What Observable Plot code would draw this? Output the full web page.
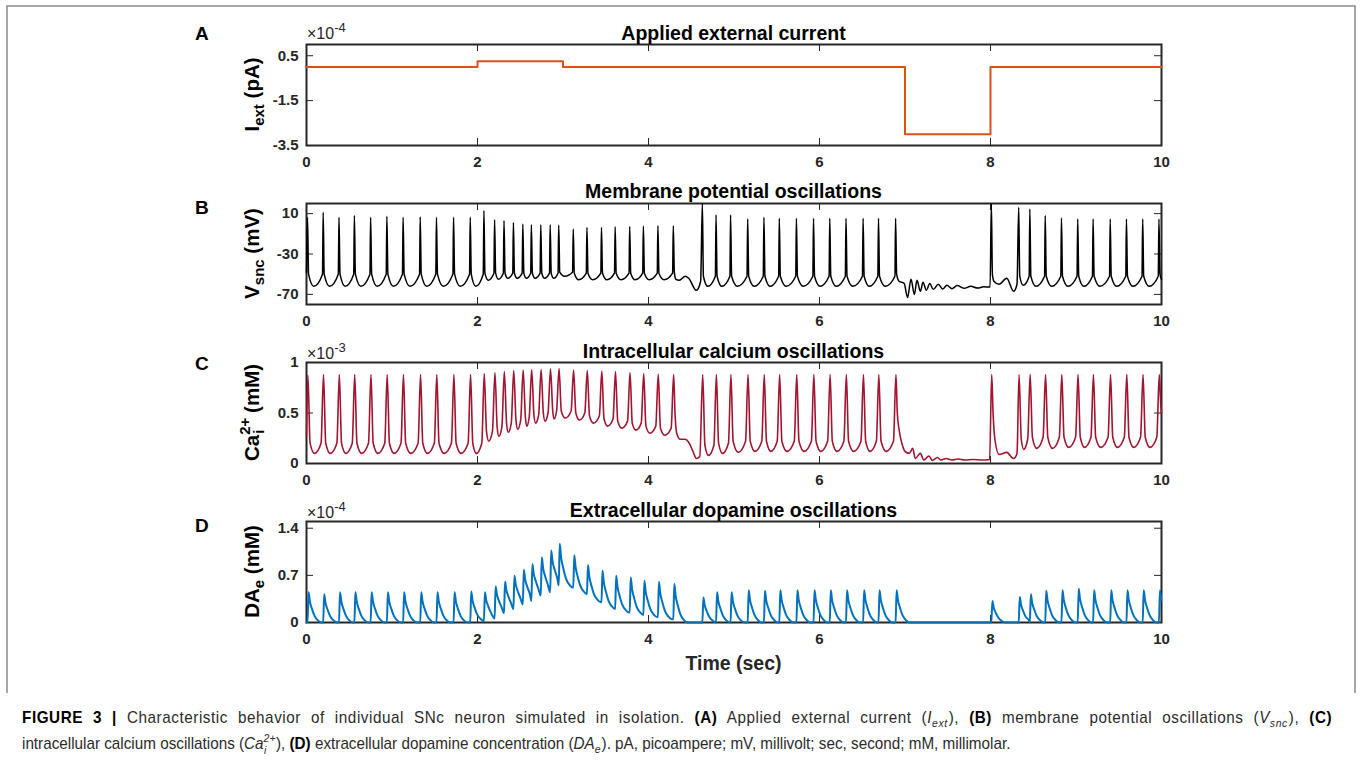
<!DOCTYPE html>
<html><head><meta charset="utf-8">
<script src="https://cdn.jsdelivr.net/npm/d3@7"></script>
<script src="https://cdn.jsdelivr.net/npm/@observablehq/plot@0.6"></script>
<style>
body{margin:0;background:#fff;}
#page{position:relative;width:1360px;height:765px;overflow:hidden;background:#fff;font-family:"Liberation Sans",Arial,Helvetica,sans-serif;}
.panel{position:absolute;left:0;}
#overlay{position:absolute;left:0;top:0;}
</style></head><body><div id="page"></div>
<script>
// ---------------- DATA ----------------
const xTicks = [0, 2, 4, 6, 8, 10];
const yTicksA = [-3.5, -1.5, 0.5];
const yTicksB = [-70, -30, 10];
const yTicksC = [0, 0.5, 1];
const yTicksD = [0, 0.7, 1.4];

// Panel A: applied current (x1e-4 pA), step changes
const iextT = [0, 2, 3, 7, 8, 10];
const iextV = [0, 0.25, 0, -3, 0, 0];

// spike times (s), shared by B, C, D
const spikeT = [0.012,0.195,0.38,0.56,0.75,0.94,1.13,1.33,1.52,1.72,1.915,
  2.075,2.20,2.31,2.42,2.53,2.63,2.74,2.85,2.95,3.12,3.28,3.45,3.61,3.78,3.94,4.11,4.29,
  4.63,4.79,4.96,5.16,5.35,5.53,5.73,5.93,6.12,6.31,6.51,6.69,6.89,
  8.01,
  8.33,8.46,8.64,8.83,9.02,9.20,9.40,9.59,9.78,9.97];

// Panel B: membrane potential (mV)
const vPeakB = [6.3,11.3,6.3,8,6.3,7.3,6.3,6.7,6.3,6.3,6.3,
  13,4,3,1.3,-0.3,-1,-1,-1,-1.3,-5.3,-3.7,-3.7,-3,-2.7,-2.3,-2,-2,
  20,8.7,8.7,4.7,6.3,5.3,5.3,5.3,5.3,5.3,5.3,5.3,5.3,
  20,
  16.3,14.6,8,5.7,4.7,4.7,4.7,4.7,4.7,4.7];
const vPreB = [-48,-50,-50,-50,-50,-50,-50,-50,-50,-50,-50,
  -50,-49,-49,-49,-49,-49,-49,-49,-49,-48,-49,-49,-49,-49,-49,-49,-49,
  -56,-52,-52,-52,-52,-52,-52,-52,-52,-52,-52,-52,-52,
  -62.7,
  -58,-52,-52,-52,-52,-52,-52,-52,-52,-52];
const vTroughB = [-62,-62,-62,-62,-62,-62,-62,-62,-62,-62,-62,
  -56,-55,-54,-54,-54,-54,-54,-54,-52,-55.5,-55.5,-55.5,-55.5,-55.5,-55.5,-55.5,null,
  -62,-62,-62,-62,-62,-62,-62,-62,-62,-62,-62,-62,null,
  null,
  -61,-62,-62,-62,-62,-62,-62,-62,-62,null];
const segB = {
  27: [[4.302,-48],[4.32,-55],[4.36,-56],[4.43,-52],[4.47,-54],[4.56,-66],[4.61,-57]],
  40: [[6.902,-50],[6.93,-57],[6.99,-59],[7.03,-73],[7.07,-55],[7.11,-70],[7.14,-56],[7.18,-67],[7.21,-58],
       [7.25,-65.8],[7.29,-59.3],[7.33,-65],[7.39,-60],[7.44,-64.7],[7.49,-61],[7.55,-64.3],[7.61,-61.3],
       [7.69,-64],[7.77,-62],[7.85,-63.7],[7.92,-62.5],[7.995,-62.7]],
  41: [[8.022,-50],[8.04,-57],[8.10,-60],[8.19,-54],[8.27,-67],[8.31,-60]],
  51: [[9.982,-50],[10,-55]]
};

// Panel C: intracellular calcium (x1e-3 mM)
const vPeakC = [0.875,0.88,0.88,0.88,0.88,0.88,0.88,0.88,0.88,0.88,0.88,
  0.89,0.90,0.91,0.92,0.925,0.93,0.93,0.935,0.94,0.925,0.92,0.915,0.91,0.90,0.89,0.885,0.88,
  0.88,0.88,0.88,0.88,0.88,0.88,0.88,0.88,0.88,0.88,0.88,0.88,0.88,
  0.88,
  0.88,0.88,0.88,0.88,0.88,0.88,0.88,0.88,0.88,0.88];
const vPreC = [0.28,0.2,0.2,0.2,0.2,0.2,0.2,0.2,0.2,0.2,0.2,
  0.2,0.32,0.36,0.40,0.43,0.46,0.48,0.50,0.52,0.52,0.50,0.47,0.44,0.42,0.40,0.37,0.35,
  0.12,0.18,0.2,0.22,0.22,0.22,0.22,0.22,0.22,0.22,0.22,0.22,0.22,
  0.06,
  0.14,0.24,0.26,0.26,0.26,0.26,0.26,0.26,0.26,0.26];
const vTroughC = [0.10,0.10,0.10,0.10,0.10,0.10,0.10,0.10,0.10,0.10,0.10,
  0.22,0.27,0.31,0.34,0.37,0.40,0.42,0.44,0.45,0.43,0.40,0.37,0.35,0.33,0.30,0.28,null,
  0.08,0.10,0.11,0.12,0.12,0.12,0.12,0.12,0.12,0.12,0.12,0.12,null,
  null,
  0.14,0.15,0.15,0.16,0.16,0.16,0.16,0.16,0.16,null];
const segC = {
  27: [[4.31,0.5],[4.33,0.30],[4.37,0.24],[4.43,0.24],[4.47,0.21],[4.52,0.12],[4.56,0.05],[4.60,0.07]],
  40: [[6.91,0.5],[6.93,0.34],[6.97,0.18],[7.00,0.12],[7.05,0.10],[7.09,0.15],[7.12,0.05],[7.18,0.10],
       [7.22,0.035],[7.28,0.075],[7.32,0.03],[7.38,0.06],[7.42,0.035],[7.48,0.05],[7.55,0.035],[7.62,0.045],
       [7.70,0.035],[7.80,0.04],[7.90,0.035],[7.99,0.04]],
  41: [[8.03,0.5],[8.05,0.25],[8.10,0.09],[8.19,0.11],[8.27,0.05],[8.31,0.10]],
  51: [[9.99,0.6],[10,0.5]]
};

// Panel D: extracellular dopamine (x1e-4 mM)
const vPeakD = [0.45,0.42,0.45,0.45,0.45,0.45,0.45,0.45,0.45,0.45,0.46,
  0.45,0.536,0.606,0.695,0.785,0.87,0.968,1.07,1.17,1.0,0.855,0.77,0.695,0.67,0.62,0.606,0.57,
  0.37,0.45,0.45,0.48,0.47,0.48,0.48,0.48,0.48,0.48,0.48,0.48,0.48,
  0.32,
  0.38,0.42,0.47,0.48,0.50,0.48,0.48,0.48,0.48,0.48];
const vPreD = [0,0,0,0,0,0,0,0,0,0,0,
  0.02,0.06,0.14,0.20,0.27,0.32,0.40,0.45,0.55,0.52,0.42,0.30,0.20,0.15,0.11,0.08,0.05,
  0,0,0,0,0,0,0,0,0,0,0,0,0,
  0,
  0,0,0,0,0,0,0,0,0,0];
// dopamine transient decay profile after its peak: [time after peak (s), fraction of rise left]
const dDecayShape = [[0.015,0.7],[0.04,0.45],[0.07,0.22],[0.11,0.07],[0.15,0]];

// ---------------- build polylines ----------------
const N = spikeT.length;
function lineB() {
  const pts = [[0, vPreB[0]]];
  spikeT.forEach((t, i) => {
    if (i > 0 && !segB[i-1]) pts.push([t - 0.008, vPreB[i]]);
    pts.push([t, vPeakB[i]]);
    if (segB[i]) pts.push(...segB[i]);
    else {
      const isi = spikeT[i+1] - t;
      pts.push([t + 0.012, vPreB[i+1]]);
      pts.push([t + 0.4 * isi, vTroughB[i]]);
    }
  });
  return pts.filter(p => p[0] <= 10).map(([t, v]) => ({t, v}));
}
function lineC() {
  const pts = [[0, vPreC[0]]];
  spikeT.forEach((t, i) => {
    if (i > 0 && !segC[i-1]) pts.push([t - 0.025, vPreC[i]]);
    pts.push([t + 0.004, vPeakC[i]]);
    if (segC[i]) pts.push(...segC[i]);
    else {
      const isi = spikeT[i+1] - t;
      pts.push([t + 0.03, vPreC[i+1]]);
      pts.push([t + 0.45 * isi, vTroughC[i]]);
    }
  });
  return pts.filter(p => p[0] <= 10).map(([t, v]) => ({t, v}));
}
function lineD() {
  const pts = [[0, 0]];
  spikeT.forEach((t, i) => {
    pts.push([t, vPreD[i]]);
    pts.push([t + 0.012, vPeakD[i]]);
    const tn = i < N - 1 ? spikeT[i+1] : 10.5;
    const f = i < N - 1 ? vPreD[i+1] : 0;
    for (const [dt, w] of dDecayShape) {
      const tt = t + 0.012 + dt;
      if (tt < tn - 0.004) pts.push([tt, f + (vPeakD[i] - f) * w]);
    }
  });
  return pts.filter(p => p[0] <= 10).map(([t, v]) => ({t, v}));
}
const dataA = iextT.map((t, i) => ({t, v: iextV[i]}));

// ---------------- layout ----------------
const W = 1360, X0 = 306, X1 = 1161, FH = 101, MT = 10, MB = 32;
const tops = [44, 203, 362, 521];
const INK = "#262626";
const page = document.getElementById("page");

function panel(top, yDomain, yTicks, marks) {
  const [y0, y1] = yDomain;
  const tly = 7 / FH * (y1 - y0);
  const tlx = 7 / (X1 - X0) * 10;
  const tk = {stroke: INK, strokeWidth: 1};
  const p = Plot.plot({
    width: W, height: MT + FH + MB,
    marginTop: MT, marginBottom: MB, marginLeft: X0, marginRight: W - X1,
    x: {domain: [0, 10]},
    y: {domain: yDomain},
    style: {background: "transparent", color: INK, fontFamily: '"Liberation Sans", Arial, sans-serif', overflow: "visible"},
    marks: [
      Plot.ruleX(xTicks, {x: d => d, y1: y0, y2: y0 + tly, ...tk}),
      Plot.ruleX(xTicks, {x: d => d, y1: y1, y2: y1 - tly, ...tk}),
      Plot.ruleY(yTicks, {y: d => d, x1: 0, x2: tlx, ...tk}),
      Plot.ruleY(yTicks, {y: d => d, x1: 10, x2: 10 - tlx, ...tk}),
      Plot.frame({stroke: INK, strokeWidth: 2}),
      ...marks,
      Plot.axisX({ticks: xTicks, tickSize: 0, tickPadding: 11, tickFormat: d => String(d), fontSize: 15, fontWeight: "bold", fill: INK, label: null}),
      Plot.axisY({ticks: yTicks, tickSize: 0, tickPadding: 8, tickFormat: d => String(d), fontSize: 15, fontWeight: "bold", fill: INK, label: null})
    ]
  });
  p.classList.add("panel");
  p.style.top = (top - MT) + "px";
  page.appendChild(p);
}

panel(tops[0], [-3.5, 1], yTicksA, [
  Plot.line(dataA, {x: "t", y: "v", curve: "step-after", stroke: "#D95319", strokeWidth: 2})
]);
panel(tops[1], [-80, 20], yTicksB, [
  Plot.line(lineB(), {x: "t", y: "v", curve: "monotone-x", stroke: "#000000", strokeWidth: 1.5})
]);
panel(tops[2], [0, 1], yTicksC, [
  Plot.line(lineC(), {x: "t", y: "v", curve: "monotone-x", stroke: "#A2142F", strokeWidth: 1.6})
]);
panel(tops[3], [0, 1.5], yTicksD, [
  Plot.line(lineD(), {x: "t", y: "v", curve: "monotone-x", stroke: "#0072BD", strokeWidth: 2})
]);

// ---------------- overlay texts ----------------
const svg = d3.select(page).append("svg").attr("id", "overlay").attr("width", W).attr("height", 765)
  .style("font-family", '"Liberation Sans", Arial, sans-serif');
svg.append("path").attr("d", "M7,693V6H1355V693").attr("fill", "none").attr("stroke", "#8a8a8a").attr("stroke-width", 1.5);

function runs(sel, list) {
  list.forEach(r => {
    const ts = sel.append("tspan").text(r.t);
    if (r.b) ts.attr("font-weight", "bold");
    if (r.i) ts.attr("font-style", "italic");
    if (r.s) ts.attr("font-size", r.s);
    if (r.dy) ts.attr("dy", r.dy);
    if (r.dx) ts.attr("dx", r.dx);
    if (r.f) ts.attr("fill", r.f);
  });
}

const titles = ["Applied external current", "Membrane potential oscillations", "Intracellular calcium oscillations", "Extracellular dopamine oscillations"];
const titleY = [39.5, 198, 357.5, 517];
const letters = ["A", "B", "C", "D"];
const letterY = [40, 214, 370, 532];
titles.forEach((t, i) => {
  svg.append("text").attr("x", (X0 + X1) / 2).attr("y", titleY[i]).attr("text-anchor", "middle")
    .attr("font-size", 19.5).attr("font-weight", "bold").attr("fill", "#000").text(t);
  svg.append("text").attr("x", 195).attr("y", letterY[i])
    .attr("font-size", 19).attr("font-weight", "bold").attr("fill", "#000").text(letters[i]);
});
const expo = [[39, "-4"], null, [359, "-3"], [518, "-4"]];
expo.forEach(e => {
  if (!e) return;
  const t = svg.append("text").attr("x", 307).attr("y", e[0]).attr("font-size", 16).attr("fill", INK);
  runs(t, [{t: "\u00d710"}, {t: e[1], s: 13, dy: -7}]);
});

const ylab = [
  [{t: "I"}, {t: "ext", s: 15, dy: 5}, {t: " (pA)", dy: -5}],
  [{t: "V"}, {t: "snc", s: 15, dy: 5}, {t: " (mV)", dy: -5}],
  [{t: "Ca"}, {t: "2+", s: 15, dy: -9}, {t: "i", s: 15, dy: 14, dx: -16}, {t: " (mM)", dy: -5, dx: 11}],
  [{t: "DA"}, {t: "e", s: 15, dy: 5}, {t: " (mM)", dy: -5}]
];
ylab.forEach((l, i) => {
  const t = svg.append("text").attr("transform", `translate(259,${tops[i] + FH / 2}) rotate(-90)`)
    .attr("text-anchor", "middle").attr("font-size", 20.5).attr("font-weight", "bold").attr("fill", "#000");
  runs(t, l);
});

svg.append("text").attr("x", (X0 + X1) / 2).attr("y", 669.5).attr("text-anchor", "middle")
  .attr("font-size", 19.5).attr("font-weight", "bold").attr("fill", INK).text("Time (sec)");

// caption: line 2 at natural (condensed) width ending near x 1012; line 1 justified to x 1331
const capFont = '"Liberation Sans Narrow", "Liberation Sans", sans-serif';
const cap1 = svg.append("text").attr("font-size", 16).attr("fill", "#2b2b2b").style("font-family", capFont);
const cap1Runs = [
  {t: "FIGURE 3 |", b: 1, f: "#000"},
  {t: " Characteristic behavior of individual SNc neuron simulated in isolation. "},
  {t: "(A)", b: 1, f: "#000"}, {t: " Applied external current ("}, {t: "I", i: 1}, {t: "ext", i: 1, s: 11, dy: 4},
  {t: "), ", dy: -4, dx: 1}, {t: "(B)", b: 1, f: "#000"}, {t: " membrane potential oscillations ("}, {t: "V", i: 1},
  {t: "snc", i: 1, s: 11, dy: 4}, {t: "), ", dy: -4, dx: 1}, {t: "(C)", b: 1, f: "#000"}
];
runs(cap1, cap1Runs);
const cap2 = svg.append("text").attr("font-size", 16).attr("fill", "#2b2b2b").style("font-family", capFont);
runs(cap2, [
  {t: "intracellular calcium oscillations ("}, {t: "Ca", i: 1}, {t: "2+", i: 1, s: 11, dy: -7},
  {t: "i", i: 1, s: 11, dy: 12, dx: -12}, {t: "), ", dy: -5, dx: 10}, {t: "(D)", b: 1, f: "#000"},
  {t: " extracellular dopamine concentration ("}, {t: "DA", i: 1}, {t: "e", i: 1, s: 11, dy: 4},
  {t: "). pA, picoampere; mV, millivolt; sec, second; mM, millimolar.", dy: -4, dx: 1}
]);
const w2 = cap2.node().getComputedTextLength() || 990;
const sx = 990 / w2;
const w1 = cap1.node().getComputedTextLength() || 1309 / sx;
const cap1Text = cap1Runs.map(r => r.t).join("");
const nSpaces = cap1Text.split(" ").length - 1;
const nChars = cap1Text.length;
const E = Math.max(0, 1309 / sx - w1);
cap1.style("letter-spacing", (0.45 * E / nChars) + "px");
cap1.style("word-spacing", (0.55 * E / nSpaces) + "px");
const w1b = cap1.node().getComputedTextLength();
if (w1b && Math.abs(w1b - 1309 / sx) > 1) {
  cap1.style("word-spacing", (0.55 * E / nSpaces + (1309 / sx - w1b) / nSpaces) + "px");
}
cap1.attr("transform", `translate(22,722.5) scale(${sx},1)`);
cap2.attr("transform", `translate(22,748.5) scale(${sx},1)`);
</script></body></html>
